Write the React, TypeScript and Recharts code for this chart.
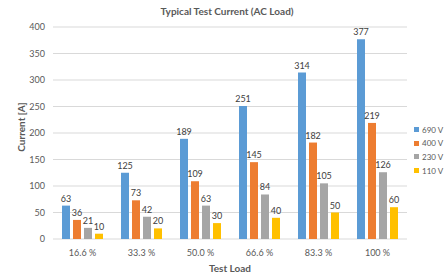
import { Bar, BarChart, CartesianGrid, Label, LabelList, XAxis, YAxis } from 'recharts';

const loads = ['16.6 %', '33.3 %', '50.0 %', '66.6 %', '83.3 %', '100 %'];
const v690 = [63, 125, 189, 251, 314, 377];
const v400 = [36, 73, 109, 145, 182, 219];
const v230 = [21, 42, 63, 84, 105, 126];
const v110 = [10, 20, 30, 40, 50, 60];
const yTicks = [0, 50, 100, 150, 200, 250, 300, 350, 400];

const series = [
  { key: 'v690', name: '690 V', color: '#5B9BD5' },
  { key: 'v400', name: '400 V', color: '#ED7D31' },
  { key: 'v230', name: '230 V', color: '#A5A5A5' },
  { key: 'v110', name: '110 V', color: '#FFC000' },
];

const data = loads.map((load, i) => ({
  load,
  v690: v690[i],
  v400: v400[i],
  v230: v230[i],
  v110: v110[i],
}));

const font = 'Lato, "Open Sans", sans-serif';
const textGray = '#595959';

export default function App() {
  return (
    <div
      style={{
        position: 'absolute',
        top: 0,
        left: 0,
        width: 446,
        height: 273,
        background: '#fff',
        fontFamily: font,
        overflow: 'hidden',
      }}
    >
      <div
        style={{
          position: 'absolute',
          top: 5,
          left: 0,
          width: 454,
          textAlign: 'center',
          fontSize: 10,
          fontWeight: 'bold',
          color: textGray,
        }}
      >
        Typical Test Current (AC Load)
      </div>

      <BarChart
        width={446}
        height={273}
        data={data}
        margin={{ top: 27, right: 39, left: 0, bottom: 0 }}
        barCategoryGap={9}
        barGap={3}
        barSize={8}
      >
        <CartesianGrid vertical={false} stroke="#D9D9D9" />
        <XAxis
          dataKey="load"
          height={34}
          axisLine={false}
          tickLine={false}
          tickMargin={5}
          tick={{ fontSize: 9, fill: textGray, fontFamily: font }}
        >
          <Label
            value="Test Load"
            position="insideBottom"
            offset={1}
            style={{ fontSize: 10, fontWeight: 'bold', fill: textGray, fontFamily: font }}
          />
        </XAxis>
        <YAxis
          width={53}
          domain={[0, 400]}
          ticks={yTicks}
          axisLine={false}
          tickLine={false}
          tick={{ fontSize: 9, fill: textGray, fontFamily: font }}
        >
          <Label
            value="Current [A]"
            angle={-90}
            position="center"
            dx={-5}
            dy={-6}
            style={{ fontSize: 10, fontWeight: 'bold', fill: textGray, fontFamily: font, textAnchor: 'middle' }}
          />
        </YAxis>
        {series.map((s) => (
          <Bar key={s.key} dataKey={s.key} name={s.name} fill={s.color} isAnimationActive={false}>
            <LabelList
              dataKey={s.key}
              position="top"
              offset={4}
              style={{ fontSize: 9, fill: '#404040', fontFamily: font }}
            />
          </Bar>
        ))}
      </BarChart>

      <div style={{ position: 'absolute', left: 414, top: 123 }}>
        {series.map((s) => (
          <div
            key={s.key}
            style={{
              display: 'flex',
              alignItems: 'center',
              height: 13.6,
              fontSize: 8,
              color: textGray,
              whiteSpace: 'nowrap',
            }}
          >
            <span style={{ width: 5, height: 5, flexShrink: 0, background: s.color, marginRight: 3 }} />
            {s.name}
          </div>
        ))}
      </div>
    </div>
  );
}
